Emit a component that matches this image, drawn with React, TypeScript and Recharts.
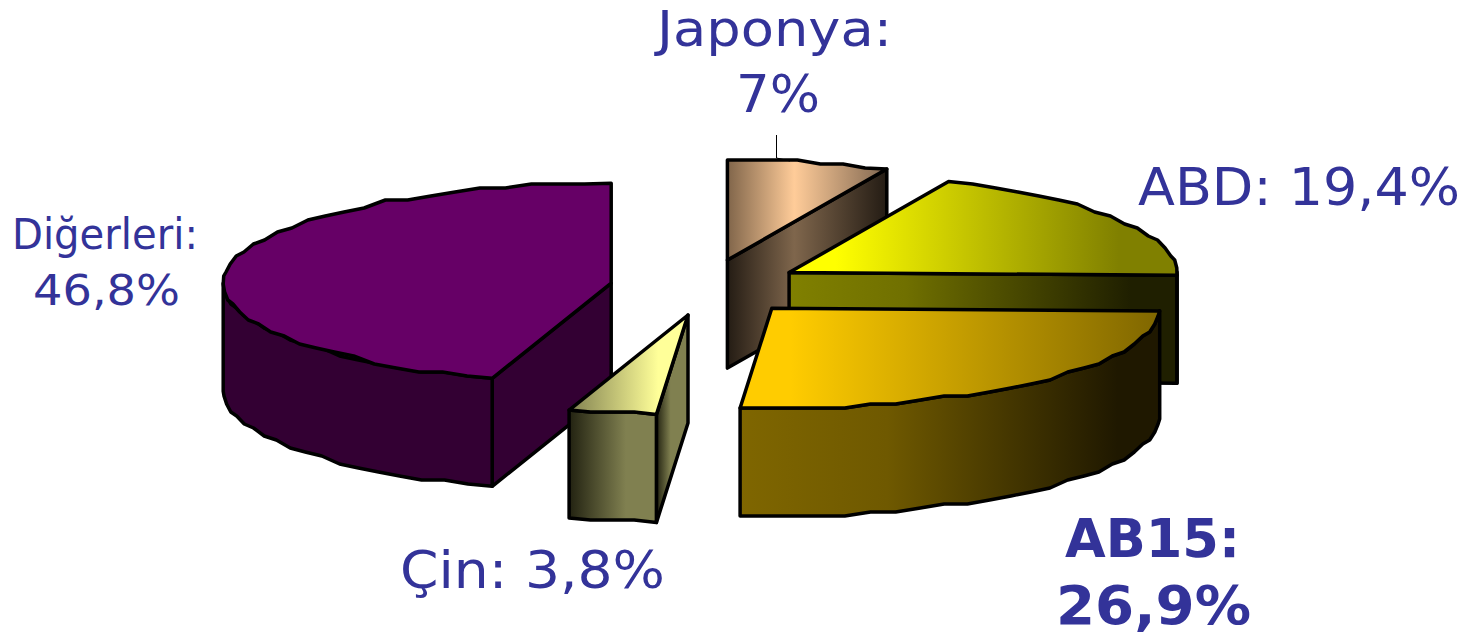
import React from 'react';
import { PieChart, Pie } from 'recharts';

const regions = ['Diğerleri', 'Japonya', 'ABD', 'AB15', 'Çin'];
const shares = [46.8, 7, 19.4, 26.9, 3.8];

const W = 1483;
const H = 637;
const RX = 388;
const SQUASH = 100 / 388;
const DEPTH = 108;
const EXPLODE_X = 0.25;
const EXPLODE_Y = 0.28;
const GRID = 4;
const RAD = Math.PI / 180;

type Stop = [number, string];
const grad = (id: string, stops: Stop[]) => (
  <linearGradient id={id} x1="0" y1="0" x2="1" y2="0" key={id}>
    {stops.map(([o, c]) => <stop key={o} offset={o} stopColor={c} />)}
  </linearGradient>
);

const Slice = (props: any) => {
  const { cx, cy, outerRadius, startAngle, endAngle, midAngle, index } = props;
  const rx = outerRadius;
  const ry = outerRadius * SQUASH;
  const ax = cx + EXPLODE_X * rx * Math.cos(midAngle * RAD);
  const ay = cy - EXPLODE_Y * ry * Math.sin(midAngle * RAD);
  const pt = (a: number, dy = 0) => [ax + rx * Math.cos(a * RAD), ay - ry * Math.sin(a * RAD) + dy];
  const hi = Math.max(startAngle, endAngle);
  const lo = Math.min(startAngle, endAngle);

  // the source rim is a bit lumpy (upscaled bitmap): coarse segments, y snapped to a grid
  const rim = (from: number, to: number, dy = 0) => {
    const n = Math.max(2, Math.ceil(Math.abs(to - from) / 4));
    const out: number[][] = [];
    for (let i = 0; i <= n; i++) {
      const p = pt(from + ((to - from) * i) / n);
      const snap = i === 0 || i === n;
      out.push([p[0], (snap ? p[1] : Math.round(p[1] / GRID) * GRID) + dy]);
    }
    return out;
  };
  const d = (pts: number[][]) => 'M' + pts.map(p => `${p[0].toFixed(1)},${p[1].toFixed(1)}`).join('L') + 'Z';
  const radial = (a: number) => d([[ax, ay], pt(a), pt(a, DEPTH), [ax, ay + DEPTH]]);

  // only faces turned towards the viewer get drawn
  const showStart = Math.cos(hi * RAD) < -0.001;
  const showEnd = Math.cos(lo * RAD) > 0.001;

  // front part of the rim: the lower half of the ellipse
  let wall: string | null = null;
  for (let shift = -720; shift <= 0; shift += 360) {
    const from = Math.max(lo, 180 + shift);
    const to = Math.min(hi, 360 + shift);
    if (to - from > 0.01) wall = d([...rim(from, to), ...rim(to, from, DEPTH)]);
  }

  const stroke = { stroke: '#000', strokeWidth: 3.5, strokeLinejoin: 'round' as const };
  return (
    <g>
      {showStart && <path d={radial(hi)} fill={`url(#side${index})`} {...stroke} />}
      {showEnd && <path d={radial(lo)} fill={`url(#side${index})`} {...stroke} />}
      {wall && <path d={wall} fill={`url(#wall${index})`} {...stroke} />}
      <path d={d([[ax, ay], ...rim(hi, lo)])} fill={`url(#top${index})`} {...stroke} />
    </g>
  );
};

const textBase = { fontFamily: '"DejaVu Sans", Verdana, sans-serif', fill: '#333399' };
const fit = 'spacingAndGlyphs';

const SliceLabel = (props: any) => {
  const name = props.name ?? props.payload?.name;
  const pct = `${String(props.value).replace('.', ',')}%`;
  if (name === 'Diğerleri') {
    return (
      <g {...textBase} fontSize={43}>
        <text x={12} y={249} textLength={186} lengthAdjust={fit}>{name}:</text>
        <text x={33} y={305} textLength={147} lengthAdjust={fit}>{pct}</text>
      </g>
    );
  }
  if (name === 'Japonya') {
    return (
      <g {...textBase} fontSize={49}>
        <path d="M776.5,135V158L790,161" fill="none" stroke="#000" strokeWidth={1} />
        <text x={657} y={45.5} textLength={235} lengthAdjust={fit}>{name}:</text>
        <text x={736} y={112} fontSize={51} textLength={84} lengthAdjust={fit}>{pct}</text>
      </g>
    );
  }
  if (name === 'ABD') {
    return <text {...textBase} x={1138} y={205} fontSize={51} textLength={322} lengthAdjust={fit}>{name}: {pct}</text>;
  }
  if (name === 'AB15') {
    return (
      <g {...textBase} fontSize={53} fontWeight="bold">
        <text x={1065} y={557} textLength={175} lengthAdjust={fit}>{name}:</text>
        <text x={1056} y={624} textLength={195} lengthAdjust={fit}>{pct}</text>
      </g>
    );
  }
  return <text {...textBase} x={400} y={588} fontSize={51} textLength={265} lengthAdjust={fit}>{name}: {pct}</text>;
};

export default function App() {
  const data = regions.map((name, i) => ({ name, value: shares[i] }));
  return (
    <div style={{ position: 'absolute', left: 0, top: 0, width: W, height: H, background: '#fff' }}>
      <PieChart width={W} height={H} margin={{ top: 0, right: 0, bottom: 0, left: 0 }}>
        <defs>
          {grad('top0', [[0, '#660066'], [1, '#660066']])}
          {grad('side0', [[0, '#330033'], [1, '#330033']])}
          {grad('wall0', [[0, '#330033'], [1, '#330033']])}

          {grad('top1', [[0, '#80654a'], [0.42, '#ffcc99'], [1, '#7f6650']])}
          {grad('side1', [[0, '#241c14'], [0.42, '#7f664c'], [1, '#241c14']])}
          {grad('wall1', [[0, '#241c14'], [1, '#241c14']])}

          {grad('top2', [[0.12, '#ffff00'], [0.85, '#808000'], [1, '#808000']])}
          {grad('side2', [[0, '#808000'], [0.3, '#707000'], [0.88, '#1f1f00'], [1, '#1f1f00']])}
          {grad('wall2', [[0, '#1f1f00'], [1, '#1f1f00']])}

          {grad('top3', [[0.12, '#ffcc00'], [1, '#7f6600']])}
          {grad('side3', [[0, '#7f6600'], [1, '#1f1800']])}
          {grad('wall3', [[0, '#7f6600'], [0.35, '#6f5900'], [0.9, '#1f1800'], [1, '#1f1800']])}

          {grad('top4', [[0, '#808050'], [0.75, '#ffff99'], [1, '#ffff99']])}
          {grad('side4', [[0, '#222211'], [0.45, '#808050'], [1, '#808050']])}
          {grad('wall4', [[0, '#222211'], [0.65, '#808050'], [1, '#808050']])}
        </defs>
        <Pie
          data={data}
          dataKey="value"
          nameKey="name"
          cx={707}
          cy={287.5}
          outerRadius={RX}
          innerRadius={0}
          startAngle={-107.85}
          endAngle={-467.85}
          paddingAngle={0}
          stroke="none"
          shape={Slice}
          label={SliceLabel}
          labelLine={false}
          isAnimationActive={false}
          rootTabIndex={-1}
        />
      </PieChart>
    </div>
  );
}
